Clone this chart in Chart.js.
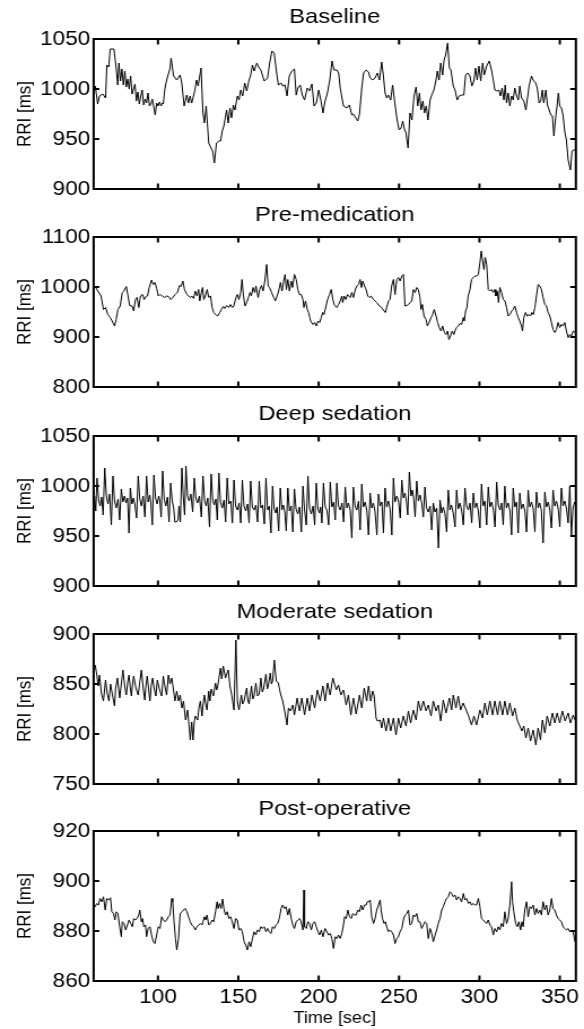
<!DOCTYPE html>
<html>
<head>
<meta charset="utf-8">
<script src="https://cdn.jsdelivr.net/npm/chart.js@4/dist/chart.umd.min.js"></script>
<style>
body { margin: 0; background: #fff; overflow: hidden; }
#wrap { position: relative; width: 584px; height: 1029px; }
canvas { position: absolute; left: 0; width: 584px; }
</style>
</head>
<body>
<div id="wrap"></div>
<script>
// RR intervals, [time sec, RRI ms]
const baseline = [
[60.5,1000],[61,1003],[62.5,985],[63.6,993],[65.7,995],[67.4,991],[68.2,1024],[69.4,1022],[70.3,1040],[72.6,1040],
[74,1021],[75,1004],[75.7,1026],[76.7,1008],[77.6,1020],[78.5,1004],[79.4,1018],[80.3,1002],[81.2,1010],[82.1,1000],
[83,1013],[83.9,995],[84.8,1000],[85.7,1005],[86.6,988],[87.5,997],[88.4,985],[89.3,993],[90.2,999],[91.1,984],
[92,990],[92.9,986],[93.8,996],[94.7,983],[95.6,985],[96.5,990],[97.4,982],[98.3,974],[99.2,986],[100.1,983],
[101,987],[101.9,983],[102.8,986],[103.3,985],[104.3,1000],[105.4,1009],[106.5,1015],[107.4,1020],[108.2,1031],[109.7,1013],
[111.7,1009],[113.8,1014],[114.8,1006],[116.3,983],[117.9,994],[119,986],[120,993],[121,986],[123,999],[124,1009],
[125,1003],[126.8,1021],[128,976],[128.9,966],[130,983],[131.6,946],[133,941],[134,938],[135.1,926],[136.4,946],
[137.9,948],[139,948],[140,958],[141,963],[142.7,979],[143.7,966],[144.8,981],[145.8,971],[146.9,984],[147.9,979],
[149.4,993],[150.4,989],[151.5,999],[152.7,993],[154,1006],[155.2,998],[156.7,1009],[157.7,1014],[158.8,1024],[159.8,1018],
[161.5,1026],[163,1021],[164,1019],[166.1,1008],[168.2,1011],[169.5,1026],[170.9,1038],[172.3,1036],[173.6,1019],[174.9,1004],
[176.6,1006],[177.6,1003],[179,1004],[180.3,993],[181.7,1013],[183.3,1018],[184.9,1020],[186,994],[187,1001],[188.5,1004],
[189.8,994],[191.2,989],[192.9,1001],[194.3,998],[195.8,1005],[197.1,983],[198.6,986],[200,999],[201.3,989],[202.7,976],
[203.7,986],[205.4,996],[206.9,1009],[208.3,1028],[209.5,1019],[211.3,1019],[212.4,1016],[213.4,1001],[215.4,983],[217.5,981],
[219.1,984],[220.6,974],[221.6,975],[223.1,971],[224.3,968],[225.4,975],[226.8,1001],[227.9,1016],[229.5,1019],[231,1017],
[232,1011],[233.6,1009],[235,1011],[236.5,1016],[237.8,1009],[239.2,1027],[240.2,1014],[241.3,996],[242.3,991],[243.3,994],
[244.8,989],[246,1004],[246.9,992],[248.6,971],[250,959],[251.2,961],[252.3,968],[253.3,960],[254.3,956],[255.6,941],
[256.8,976],[258,969],[259.3,993],[260.6,1002],[261.6,983],[262.7,996],[263.7,979],[264.8,988],[265.8,976],[266.9,983],
[268,969],[269.3,989],[270.3,994],[271.7,999],[273,1009],[273.8,1018],[274.9,1009],[275.9,1026],[277.1,1014],[278,1029],
[279,1034],[280.2,1046],[281.3,1021],[282.3,1019],[283.7,1003],[284.8,999],[286.2,989],[287.4,993],[288.9,994],[290.3,994],
[291.4,1014],[292.7,1016],[294.1,1013],[295.3,1003],[296.5,1008],[297.6,1021],[298.6,1009],[299.7,1023],[300.8,1008],[302,1026],
[303,1014],[304.5,1023],[306.1,1028],[307.5,1019],[308.6,1009],[309.6,999],[310.7,998],[312.1,999],[313.1,993],[314.1,1001],
[315.2,989],[316,1004],[316.9,986],[317.9,996],[318.9,983],[320,993],[321,989],[322,1001],[323,994],[324.2,989],
[325.1,1003],[326.2,991],[327.6,988],[328.9,979],[329.7,989],[331,1004],[332.4,1013],[333.4,1009],[335,1006],[336,1001],
[337.1,986],[338.1,988],[339.2,999],[340,986],[341.3,999],[342.3,984],[343.4,979],[344.4,974],[345.4,973],[346.3,953],
[347.6,974],[348.3,983],[349.1,996],[350,983],[351,981],[352,974],[353.1,957],[354.1,949],[355.2,929],[356.6,919],
[357.6,938],[358.7,939],[359.9,939]
];

const premed = [
[60.5,1000],[61.3,999],[62.6,992],[64.6,982],[66.1,955],[67.4,959],[68.8,945],[70.3,939],[71.5,932],[73,922],
[74,935],[75.1,955],[76.5,962],[77.8,989],[78.9,992],[80.3,1001],[81.4,982],[82.4,963],[83.9,962],[84.9,952],
[86,975],[87,979],[88.1,959],[89.1,982],[90.4,985],[91.4,975],[92.5,981],[93.5,982],[94.6,999],[96,1014],
[97.1,1005],[98.1,1009],[99.2,997],[100.2,982],[101.3,985],[102.7,982],[104,979],[105.5,982],[106.5,981],[108,975],
[109.2,979],[110.7,985],[112.1,989],[113.4,1003],[114.4,1001],[115.5,1012],[116.5,995],[118,985],[119,982],[120.1,979],
[121.1,982],[122.2,977],[123.2,992],[124.3,982],[125.3,995],[126,972],[127,989],[127.8,999],[128.5,975],[129.5,982],
[130.6,995],[131.6,979],[132.7,982],[133.7,959],[134.7,949],[135.8,945],[137.2,942],[138.5,949],[139.5,955],[140.6,961],
[141.6,957],[142.7,963],[144.1,959],[145.1,965],[146.2,959],[147.2,962],[148.5,979],[149.4,985],[150.4,975],[151.5,989],
[152.3,1015],[153.2,982],[154.2,962],[155.2,969],[156.3,979],[157.3,989],[158.1,982],[159.2,999],[160.2,989],[161,1002],
[162.3,979],[163.3,995],[164.4,1003],[165.4,992],[166.5,1012],[167.6,1045],[168.6,1002],[169.4,999],[170.7,989],[172,979],
[173,972],[174.1,982],[175.1,992],[176.2,1009],[177.2,992],[178.2,1012],[179.1,1025],[179.9,995],[180.8,1015],[181.8,992],
[182.9,1012],[183.7,999],[184.9,1025],[186,1015],[187,995],[188.1,985],[189.1,985],[190.2,975],[190.8,959],[191.8,972],
[192.9,955],[193.7,949],[195,932],[196.4,925],[197.5,929],[198.5,922],[199.6,932],[200.6,929],[201.6,939],[202.5,949],
[203.3,945],[204.6,962],[205.5,975],[206.7,985],[207.8,995],[208.8,975],[209.8,963],[211.3,959],[212.3,965],[213.4,972],
[214.4,982],[215,969],[215.8,982],[216.9,975],[217.9,985],[218.7,982],[219.6,979],[220.6,989],[221.6,979],[222.7,994],
[223.7,1002],[224.8,1005],[225.8,1015],[226.6,999],[227.4,1012],[228.5,1002],[229.5,995],[230.5,982],[231.5,979],[232.6,982],
[234.1,975],[235.1,972],[236.1,969],[237.8,962],[239.2,959],[240.7,952],[241.5,949],[242.3,959],[243.4,972],[244.4,975],
[245.4,1002],[246.5,1015],[247.5,985],[248.6,1015],[249.6,1019],[250.6,1012],[251.7,1022],[252.7,1025],[253.7,962],[254.8,963],
[255.8,965],[256.9,969],[257.9,972],[258.9,995],[260,989],[261,999],[262,995],[263,979],[263.7,955],[264.5,965],
[265.5,942],[266.8,935],[267.6,922],[268.7,929],[269.9,939],[270.9,945],[271.9,955],[273,942],[274,929],[275,919],
[276.1,912],[277.1,922],[278.2,909],[279.2,905],[280.2,912],[281,895],[282,902],[283.1,912],[284.1,905],[285,914],
[285.8,919],[286.8,922],[287.9,927],[288.9,925],[290,939],[290.6,932],[291.4,952],[292.2,959],[293,982],[294.1,995],
[295.1,1015],[296.2,1019],[297.2,1022],[298.3,1022],[299.3,1025],[300.3,1049],[301.1,1072],[302,1052],[302.8,1035],[303.6,1059],
[304.5,1045],[305.5,995],[306.5,992],[307.5,995],[308.6,989],[309.6,995],[310.2,982],[311.1,992],[311.9,969],[312.7,999],
[313.8,989],[314.8,975],[315.9,972],[316.9,959],[317.9,942],[319,945],[320,952],[321,955],[322,962],[323.1,949],
[324.1,939],[325.1,932],[326.2,922],[326.8,912],[327.6,939],[328.7,949],[329.7,942],[330.8,945],[331.8,942],[332.6,949],
[333.5,945],[334.5,959],[335.5,982],[336.5,1005],[337.6,1002],[338.6,995],[339.6,979],[340.7,965],[341.7,962],[342.7,949],
[343.8,942],[344.8,929],[345.8,915],[346.9,909],[347.9,915],[348.9,929],[350,919],[351,925],[352,922],[353.1,929],
[354.1,912],[355.2,899],[356.2,905],[357.2,902],[358.3,912],[359.5,909]
];

const deep = [
[60.6,990],[61.3,975],[62.1,1008],[63.1,986],[64.1,980],[65,989],
[65.9,971],[66.9,1018],[67.9,990],[68.9,982],[69.9,992],
[71,961],[72,1010],[73,985],[74,978],[75.2,987],
[76.2,966],[77.2,997],[78.2,984],[79.2,990],[80.2,983],[81.1,988],
[82,953],[82.8,998],[83.8,982],[84.8,988],[85.8,980],
[86.7,968],[87.7,1010],[88.7,987],[89.7,980],[90.8,990],
[91.9,969],[92.9,1010],[93.9,984],[94.9,991],[95.6,983],
[96.5,961],[97.5,1011],[98.5,988],[99.5,982],[100.5,990],[101.2,985],
[102,969],[102.9,1015],[103.9,987],[104.9,980],[105.9,989],
[106.9,964],[107.9,1003],[108.9,985],[109.8,978],[110.5,964],[111.5,964],[112.5,966],[113.1,980],
[113.9,964],[114.9,1018],[115.8,988],
[116.6,971],[117.4,1020],[118.4,990],[119.4,985],[120.5,992],
[121.6,974],[122.6,1008],[123.6,988],[124.6,983],[125.8,990],
[127,969],[128,1010],[129,986],[130,980],[131,988],
[132.1,959],[133.1,1012],[134.1,986],[135,981],[136,987],
[136.9,966],[137.9,1013],[138.9,984],[140,978],[141.1,986],
[142.1,964],[143.1,1008],[144.1,982],[145.3,985],
[146.3,963],[147.3,1006],[148.3,980],[149.4,976],[150.5,983],
[151.5,963],[152.5,1006],[153.5,980],[154.6,975],[155.7,982],
[156.7,963],[157.7,1005],[158.7,979],[159.8,976],[160.9,981],
[162,964],[163,1005],[164,978],[165.1,981],
[166.2,962],[167.2,1008],[168.2,976],[169.3,980],
[170.3,953],[171.3,1000],[172.3,977],[173.2,973],[174.1,979],
[175.1,955],[176.1,998],[177.1,976],[178,981],[178.9,974],
[179.8,955],[180.8,998],[181.8,975],[182.9,980],
[183.9,954],[184.9,997],[185.9,977],[187,972],[188.1,979],
[189.2,954],[190.2,1000],[191.2,976],
[192.3,961],[193.3,1010],[194.3,978],[195.4,972],[196.5,980],
[197.5,961],[198.5,1003],[199.5,977],[200.5,973],[201.2,979],
[202,963],[203,1003],[204,980],[205.2,975],
[206.2,961],[207.2,1004],[208.2,979],[209.3,984],
[210.3,966],[211.3,1003],[212.3,980],[213.4,976],[214.5,983],
[215.5,964],[216.5,999],[217.5,978],[218.5,983],[219.6,976],
[220.6,948],[221.6,999],[222.6,980],[223.7,976],[224.8,985],
[225.8,956],[226.8,1002],[227.8,979],[228.9,984],[230,975],
[231,951],[232,993],[233,978],[234,983],[235,975],
[236.2,951],[237.2,992],[238.2,980],[239.3,984],
[240.3,953],[241.3,998],[242.3,979],[243.4,985],[244.5,976],
[245.5,951],[246.5,1008],[247.5,984],[248.6,990],[249.7,985],
[250.7,968],[251.7,1006],[252.7,988],[253.6,993],[254.5,986],
[255.4,971],[256.4,1014],[257.4,990],[258.3,996],[259.1,987],
[260,969],[261,1005],[262,985],[263.1,991],[264.1,983],
[265.1,969],[266.1,999],[267.1,978],[268.2,974],[269.3,980],
[270.3,956],[271.3,983],[272.3,974],[273.4,978],
[274.5,938],[275.5,986],[276.5,973],[277.5,979],[278.6,972],
[279.6,954],[280.6,996],[281.6,976],[282.6,981],[283.7,973],
[284.8,959],[285.8,996],[286.8,977],[287.9,983],[289,975],
[290,961],[291,998],[292,980],[293.1,976],[294.2,983],
[295.2,963],[296.2,993],[297.2,978],[298.3,983],[299.3,975],
[300.3,958],[301.3,1002],[302.3,980],[303.4,985],
[304.5,961],[305.5,999],[306.5,979],[307.6,984],[308.7,976],
[309.7,959],[310.7,1004],[311.7,981],[312.8,976],[313.8,983],
[314.8,961],[315.8,1000],[316.8,978],[317.9,983],[319,975],
[320,951],[321,998],[322,979],[323.1,984],
[324.1,953],[325.1,993],[326.1,977],[327.2,982],[328.3,975],
[329.3,954],[330.3,996],[331.3,979],[332.4,984],[333.5,977],
[334.5,954],[335.5,994],[336.5,978],[337.5,983],[338.5,976],
[339.6,943],[340.7,994],[341.7,979],[342.8,984],[343.8,976],
[344.8,958],[345.8,996],[346.8,980],[347.9,985],[349,977],
[350,959],[351,998],[352,980],[353.1,985],[354.2,977],
[355.2,963],[356.2,1000],[357.2,951],[358.2,978],[359.3,984],[360,980]
];

const moderate = [
[60.5,868],[60.9,869],[61.9,860],[62.8,848],[63.6,859],[64.9,840],[66.1,833],[67.4,854],[68.5,840],[69.5,833],
[70.5,850],[71.8,838],[73,828],[73.6,845],[74.8,856],[76.2,836],[77.2,850],[78.2,864],[79.3,848],[80.3,839],
[81.2,852],[82,859],[82.8,846],[83.5,838],[84.2,850],[84.9,858],[86.3,846],[87.7,839],[88.7,852],[89.7,864],
[90.8,846],[91.8,834],[92.5,848],[93.3,858],[94.2,845],[95,833],[95.8,848],[96.7,856],[97.7,845],[98.7,838],
[99.6,854],[100.9,845],[102.3,838],[103.3,858],[104.3,848],[105.4,839],[106.5,859],[107.5,850],[108.6,856],[109.6,845],
[110.6,833],[111.7,843],[112.8,833],[113.8,839],[114.9,826],[115.9,833],[116.5,824],[117.2,814],[118.4,824],[119.2,811],
[120.1,794],[121,812],[121.8,794],[122.5,811],[123.2,818],[124.7,814],[125.5,826],[126.4,833],[127.4,818],[128.1,830],
[128.9,839],[129.7,830],[130.5,824],[131.6,843],[132.3,833],[133.1,845],[134.5,838],[135.8,851],[136.5,844],[137.2,848],
[138.9,866],[139.7,855],[140.6,868],[142,856],[143.7,864],[144.8,848],[146,838],[147.3,824],[148.5,894],[149.4,833],
[150.4,824],[151.9,839],[152.7,830],[153.6,833],[155.2,846],[156,833],[156.7,830],[158.2,848],[159,835],[159.8,838],
[160.9,851],[162,838],[163,840],[164,856],[164.9,842],[165.7,845],[167.2,860],[168,845],[168.6,848],[169.9,861],
[170.6,850],[171.3,853],[172.4,874],[173.6,853],[174.9,851],[176.1,841],[177.6,833],[178.7,824],[180.3,809],[181.2,826],
[182.4,823],[183.9,829],[184.9,819],[186.6,836],[188.1,823],[189.5,836],[191.2,819],[192.9,836],[194.3,823],[195.8,839],
[197.5,826],[199.2,844],[200.9,833],[202.6,848],[204,833],[205.5,851],[207.1,839],[208.8,856],[210.9,844],[212.3,849],
[213.8,839],[215.4,844],[217.1,829],[218.5,839],[220,819],[221.6,836],[223.3,820],[225.4,839],[226.8,826],[228.3,846],
[229.9,833],[231,848],[232.4,833],[233.6,843],[234.5,838],[235.7,816],[236.5,813],[238.2,814],[239.2,806],[240.3,816],
[241.9,803],[243.4,816],[244.8,803],[246.5,816],[248.1,799],[249.6,816],[251,806],[252.7,818],[254.3,808],[255.8,823],
[257.2,811],[258.9,824],[260.6,814],[262,833],[263.5,823],[265.1,833],[266.8,823],[268.2,829],[269.9,818],[271.3,833],
[273,823],[274.4,829],[275.9,813],[277.5,834],[279.2,821],[281.3,836],[282.7,824],[283.7,839],[285.4,826],[286.8,838],
[288.3,824],[289.9,831],[292,823],[293.7,816],[295.1,809],[296.6,818],[298.2,809],[300.3,824],[301.9,816],[303.4,831],
[304.9,819],[306.5,833],[308.2,819],[309.6,833],[311.3,819],[312.7,833],[314.4,819],[315.8,833],[317.5,819],[318.9,831],
[320.6,818],[322,826],[323.5,814],[325.1,808],[326.4,803],[327.6,808],[328.9,796],[330.3,806],[331.8,793],[333.4,804],
[335.1,789],[336.5,806],[338,794],[339.2,814],[340.7,801],[342.1,818],[343.8,808],[345.4,821],[346.9,811],[348.3,821],
[350,811],[351.6,823],[353.3,813],[355.2,821],[356.6,811],[358.3,819],[359.5,814]
];

const postop = [
[60.5,890],[60.9,889.7],[61.9,891],[63,890.4],[64,893],[65.1,891.7],[66.1,893.7],[67.2,888.4],[68.2,893],[69.5,892.4],
[70.5,893.3],[71.3,887.7],[72.4,887],[73.2,884.4],[74.1,887.7],[75.1,887],[76.2,881.7],[77.2,877.7],[77.8,883.7],[78.9,883],
[79.9,880.4],[81,882.4],[82,884.4],[83.1,883],[84.1,881.7],[84.9,885],[86,884.4],[87,885],[88.1,886.4],[88.7,888.4],
[89.7,883.7],[90.4,885],[91.2,881.7],[92.3,882.4],[92.9,877.7],[93.9,881],[95,881.7],[96,878.4],[97.1,875.7],[98.1,875],
[99.2,878.4],[100.2,881.7],[101.3,881],[102.3,885.7],[103.3,884.4],[104.4,883.7],[105.4,884.4],[106.5,885.7],[107.5,886.4],[108.6,893],
[109.2,891.7],[110,883.7],[110.9,877],[111.7,872.4],[112.8,877],[113.8,887],[114.9,887.7],[115.9,888.4],[116.9,889],[118,887.7],
[119,885.7],[120.1,883.7],[121.1,882.4],[122.2,881.7],[123.2,880.4],[124.3,881.7],[125.3,882.4],[126.4,883],[127.4,882.4],[128,883.7],
[128.9,885.7],[129.7,884.4],[130.5,886.4],[131.6,882.4],[132.6,883],[133.7,884.4],[134.7,883.7],[135.8,887.7],[136.8,891.7],[137.4,889],
[138.3,891],[139.3,889],[140.2,892.8],[141,889],[142,886.4],[143.1,887.7],[144.1,885],[145.2,885.7],[146.2,883.7],[147.3,881],
[148.3,885],[149.4,884.4],[150.4,880.4],[151.5,881],[152.5,879.7],[153.6,875.7],[154.6,874.4],[155.6,872.4],[156.7,875.7],[157.7,873.7],
[158.8,877],[159.8,879.7],[160.9,878.4],[161.9,880.4],[163,879.7],[164,881.7],[165,881],[166.1,881.7],[167.2,879.7],[168.2,881],
[169.2,879.7],[170.3,879],[171.3,881.7],[172.4,881],[173.4,882.4],[174.5,883],[175.5,885],[176.6,889],[177.6,890.4],[178.7,889],
[179.7,889.7],[180.8,886.4],[181.8,889],[182.9,885],[183.9,882.4],[184.9,881],[186,883.7],[187,884.4],[188.1,885],[189.1,883.7],
[190.2,880.4],[190.8,896.4],[191.2,881.7],[192.3,881],[193.3,883.7],[194.3,883],[195.4,880.4],[196.4,883],[197.5,883.7],[198.5,881.7],
[199.6,879.7],[200.6,878.4],[201.6,880.4],[202.7,877.7],[204,881],[205.1,879.7],[206.1,878.4],[207.2,879],[208.2,877],[209.2,873],
[210.3,877.7],[211.3,877],[212.3,878.4],[213.4,877],[214.4,879],[215.4,882.4],[216.1,885.7],[217.1,885],[218.1,888.4],[219.2,885.7],
[220.2,885],[221.2,887],[222.3,886.4],[223.3,886.4],[224.3,888.4],[225.4,887.7],[226.4,890.4],[227.4,888.4],[228.5,890.4],[229.5,890.4],
[230.3,891.7],[231.2,891.7],[232,892.4],[233,885.7],[234.1,883],[235.1,885],[236.1,888.4],[237.2,890.4],[238.2,892.4],[238.8,888.4],
[239.7,885],[240.7,883],[241.5,883.7],[242.3,881.7],[243.4,879.7],[244.4,880.4],[245.4,879.7],[246.5,878.4],[247.5,875],[248.6,877],
[249.6,877.7],[250.6,879.7],[251.7,881],[252.7,884.4],[253.7,886.4],[254.8,887],[255.8,888.4],[256.8,882.4],[257.9,883],[258.9,886.4],
[259.9,885.7],[261,887],[262,883.7],[263,883.7],[264.1,881],[265.1,882.4],[266.1,883.7],[267.2,883],[268.2,877],[269.3,881],
[270.3,879],[271.3,875.7],[272.4,878.4],[273.4,880.4],[274.4,883],[275.5,885],[276.5,888.4],[277.5,889.7],[278.6,891.7],[279.6,893],
[280.6,893.7],[281.7,895.7],[282.7,895],[283.7,893.7],[284.8,894.4],[285.8,892.4],[286.8,893.7],[287.9,893],[288.9,891.7],[290,895],
[291,892.4],[292,893],[293.1,891],[294.1,891.7],[295.1,890.4],[296.2,891],[297.2,890.4],[298.2,890.4],[299.3,893],[300.3,889.7],
[301.3,885],[302.4,884.4],[303.4,883.7],[304.4,883],[305.5,884.4],[306.5,882.4],[307.5,881.7],[308.6,878.4],[309.6,881],[310.7,879.7],
[311.7,881.7],[312.7,880.4],[313.7,883],[314.8,881.7],[315.8,887.7],[316.9,883],[317.9,885],[318.9,890.4],[320,899.7],[320.6,891.7],
[321.4,887.7],[322.5,883],[323.5,881.7],[324.5,883.7],[325.6,880.4],[326.4,883.7],[327.2,881.7],[328.2,888.4],[329.3,891.7],[330.3,885.7],
[331.4,889.7],[332.4,889],[333.4,890.4],[334.5,886.4],[335.5,889],[336.5,887],[337.6,888.4],[338.6,886.4],[339.6,891.7],[340.7,888.4],
[341.7,890.4],[342.7,886.4],[343.8,888.4],[344.8,893],[345.8,889],[346.9,888.4],[347.9,886.4],[348.9,885],[350,884.4],[351,883.7],
[352,881.7],[353.1,881],[354.1,880.4],[355.2,881],[356.2,879.7],[357.2,880.4],[358.3,879.7],[359.5,875.7]
];

const titles = ['Baseline', 'Pre-medication', 'Deep sedation', 'Moderate sedation', 'Post-operative'];
const xTicks = [100, 150, 200, 250, 300, 350];
const yTicksBase = [900, 950, 1000, 1050];
const yTicksPremed = [800, 900, 1000, 1100];
const yTicksDeep = [900, 950, 1000, 1050];
const yTicksModerate = [750, 800, 850, 900];
const yTicksPostop = [860, 880, 900, 920];

const panels = [
    { title: titles[0], data: baseline, yTicks: yTicksBase },
    { title: titles[1], data: premed, yTicks: yTicksPremed },
    { title: titles[2], data: deep, yTicks: yTicksDeep },
    { title: titles[3], data: moderate, yTicks: yTicksModerate },
    { title: titles[4], data: postop, yTicks: yTicksPostop }
];

Chart.defaults.font.family = "'Liberation Sans', Arial, Helvetica, sans-serif";
Chart.defaults.font.weight = 400;
Chart.defaults.color = '#000';
Chart.defaults.plugins.title.font = { weight: 400 };

// the reference is horizontally stretched, so draw narrow and let css widen it
const W = 517;
const tops = [0, 198, 397, 595, 792];

// box round the plot with inward ticks on all four sides
const frame = {
    id: 'frame',
    afterDraw(chart) {
        const { ctx, chartArea: a, scales: { x, y } } = chart;
        ctx.save();
        ctx.strokeStyle = '#000';
        ctx.lineWidth = 2;
        ctx.strokeRect(a.left, a.top, a.right - a.left, a.bottom - a.top);
        ctx.beginPath();
        x.ticks.forEach(t => {
            const px = x.getPixelForValue(t.value);
            ctx.moveTo(px, a.bottom); ctx.lineTo(px, a.bottom - 5.5);
            ctx.moveTo(px, a.top); ctx.lineTo(px, a.top + 5.5);
        });
        y.ticks.forEach(t => {
            const py = y.getPixelForValue(t.value);
            ctx.moveTo(a.left, py); ctx.lineTo(a.left + 5, py);
            ctx.moveTo(a.right, py); ctx.lineTo(a.right - 5, py);
        });
        ctx.stroke();
        ctx.restore();
    }
};

const wrap = document.getElementById('wrap');

panels.forEach((p, i) => {
    const last = i === panels.length - 1;
    const h = last ? 237 : 198;
    const c = document.createElement('canvas');
    c.width = W;
    c.height = h;
    c.style.top = tops[i] + 'px';
    c.style.width = '584px';
    c.style.height = h + 'px';
    wrap.appendChild(c);

    new Chart(c, {
        type: 'line',
        data: {
            datasets: [{
                data: p.data.map(d => ({ x: d[0], y: d[1] })),
                borderColor: '#000',
                borderWidth: 1,
                pointRadius: 0,
                tension: 0,
                fill: false
            }]
        },
        options: {
            responsive: false,
            animation: false,
            devicePixelRatio: 1,
            layout: { padding: { left: 0, right: 7.2, top: 0, bottom: last ? 0 : 9 } },
            plugins: {
                legend: { display: false },
                tooltip: { enabled: false },
                title: {
                    display: true,
                    text: p.title,
                    fullSize: false,
                    color: '#000',
                    font: { size: 21, weight: 400 },
                    padding: { top: 5, bottom: 8.8 }
                }
            },
            scales: {
                x: {
                    type: 'linear',
                    min: 60,
                    max: 360,
                    grid: { display: false, drawTicks: false },
                    border: { display: false },
                    afterBuildTicks: s => { s.ticks = xTicks.map(v => ({ value: v })); },
                    afterFit: s => { s.height = last ? 48 : 0; s.paddingLeft = 0; s.paddingRight = 0; },
                    ticks: {
                        display: last,
                        padding: 4,
                        color: '#000',
                        font: { size: 20 },
                        maxRotation: 0,
                        autoSkip: false,
                        callback: v => String(v)
                    },
                    title: {
                        display: last,
                        text: 'Time [sec]',
                        color: '#000',
                        font: { size: 16 },
                        padding: { top: 0, bottom: 0.4 }
                    }
                },
                y: {
                    min: p.yTicks[0],
                    max: p.yTicks[p.yTicks.length - 1],
                    grid: { display: false, drawTicks: false },
                    border: { display: false },
                    afterBuildTicks: s => { s.ticks = p.yTicks.map(v => ({ value: v })); },
                    afterFit: s => { s.width = 82.9; s.paddingTop = 0; s.paddingBottom = 0; },
                    ticks: {
                        padding: 3,
                        color: '#000',
                        font: { size: 20 },
                        autoSkip: false,
                        callback: v => String(v)
                    },
                    title: {
                        display: true,
                        text: 'RRI [ms]',
                        color: '#000',
                        font: { size: 17 },
                        padding: { top: 12.6, bottom: 0 }
                    }
                }
            }
        },
        plugins: [frame]
    });
});
</script>
</body>
</html>
